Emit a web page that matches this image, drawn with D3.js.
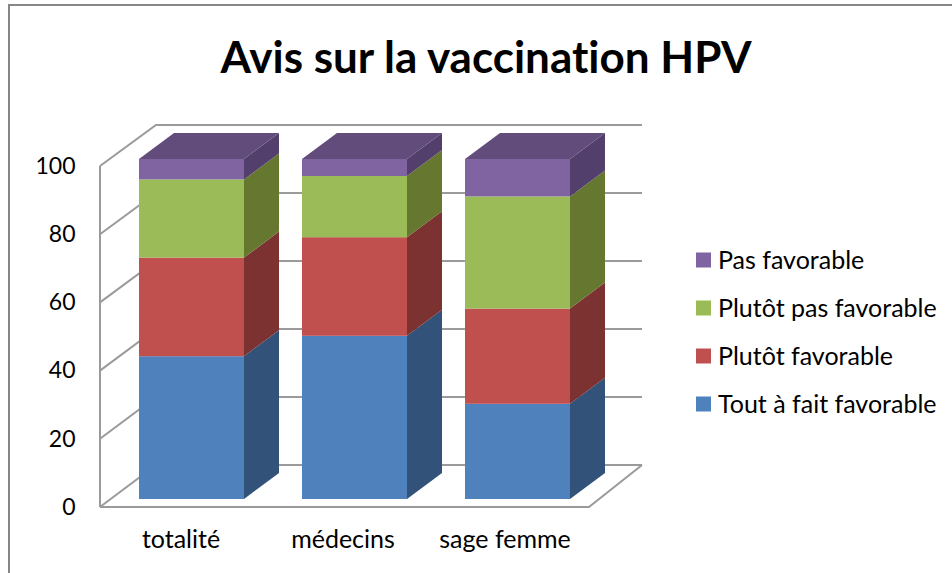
<!DOCTYPE html>
<html>
<head>
<meta charset="utf-8">
<title>Avis sur la vaccination HPV</title>
<script src="https://d3js.org/d3.v7.min.js"></script>
<style>
    html, body { margin: 0; padding: 0; background: #fff; }
    svg { display: block; }
    text { font-family: Lato, "Open Sans", sans-serif; fill: #000; font-variant-ligatures: none; }
</style>
</head>
<body>
<div id="chart"></div>
<script>
    // data
    var categories = ["totalité", "médecins", "sage femme"];
    var seriesNames = ["Tout à fait favorable", "Plutôt favorable", "Plutôt pas favorable", "Pas favorable"];
    var toutAFait = [42, 48, 28];
    var plutotFav = [29, 29, 28];
    var plutotPas = [23, 18, 33];
    var pasFav = [6, 5, 11];
    var yTicks = [0, 20, 40, 60, 80, 100];

    var frontColors = ["#4f81bd", "#c0504d", "#9bbb59", "#8064a2"];
    var sideColors = ["#32527a", "#7c3230", "#66782f", "#533f6b"];
    var topColor = "#624c7c";
    var gridColor = "#9a9a9a";
    var labelSize = 25;

    var svg = d3.select("#chart").append("svg")
        .attr("width", 952)
        .attr("height", 573);

    // scales: one for the front of the box, one for the bars, one for the back wall
    var x = d3.scaleBand().domain(categories).range([100, 589]);
    var xLabels = d3.scaleBand().domain(categories).range([100, 586]);
    var yAxisScale = d3.scaleLinear().domain([0, 100]).range([507, 166]);
    var yBar = d3.scaleLinear().domain([0, 100]).range([499, 159]);
    var yWall = d3.scaleLinear().domain([0, 100]).range([465, 125]);

    var barDepthX = 35, barDepthY = -26; // depth of a bar
    var barWidth = 105, barShift = 10;

    // outer border of the chart area
    svg.append("path")
        .attr("d", "M9,573V5H952")
        .attr("fill", "none")
        .attr("stroke", "#868686")
        .attr("stroke-width", 2);

    svg.append("text")
        .attr("x", 486)
        .attr("y", 73)
        .attr("text-anchor", "middle")
        .attr("font-size", 44)
        .attr("font-weight", "bold")
        .text("Avis sur la vaccination HPV");

    // walls and grid
    var walls = svg.append("g")
        .attr("fill", "none")
        .attr("stroke", gridColor)
        .attr("stroke-width", 2);

    walls.selectAll(".grid")
        .data(yTicks)
        .enter()
        .append("path")
        .attr("class", "grid")
        .attr("d", function (d) {
            return "M100," + yAxisScale(d) + "L156," + yWall(d) + "H642";
        });

    walls.append("path").attr("d", "M100," + yAxisScale(0) + "V" + yAxisScale(100));
    walls.append("path").attr("d", "M100," + yAxisScale(0) + "H589L642," + yWall(0));

    // axis labels
    var yAxis = svg.append("g")
        .attr("transform", "translate(75.5,0)")
        .call(d3.axisLeft(yAxisScale).tickValues(yTicks).tickSize(0).tickPadding(0));
    yAxis.select(".domain").remove();
    yAxis.selectAll("text")
        .attr("font-size", 23)
        .style("font-family", "Lato, 'Open Sans', sans-serif");

    var xAxis = svg.append("g")
        .attr("transform", "translate(0,530)")
        .call(d3.axisBottom(xLabels).tickSize(0).tickPadding(0));
    xAxis.select(".domain").remove();
    xAxis.selectAll("text")
        .attr("font-size", labelSize)
        .style("font-family", "Lato, 'Open Sans', sans-serif");

    // stacked bars
    var stack = d3.stack().keys([0, 1, 2, 3]).value(function (d, key) { return d[key]; });
    var rows = categories.map(function (c, i) {
        return [toutAFait[i], plutotFav[i], plutotPas[i], pasFav[i]];
    });
    var layers = stack(rows);

    function barLeft(i) {
        return x(categories[i]) + x.bandwidth() / 2 + barShift - barWidth / 2;
    }

    layers.forEach(function (layer, s) {
        var g = svg.append("g");

        // side face
        g.selectAll(".side")
            .data(layer)
            .enter()
            .append("path")
            .attr("class", "side")
            .attr("fill", sideColors[s])
            .attr("d", function (d, i) {
                var xr = barLeft(i) + barWidth;
                return "M" + xr + "," + yBar(d[0])
                    + "L" + (xr + barDepthX) + "," + (yBar(d[0]) + barDepthY)
                    + "V" + (yBar(d[1]) + barDepthY)
                    + "L" + xr + "," + yBar(d[1]) + "Z";
            });

        // front face
        g.selectAll(".front")
            .data(layer)
            .enter()
            .append("rect")
            .attr("class", "front")
            .attr("fill", frontColors[s])
            .attr("x", function (d, i) { return barLeft(i); })
            .attr("y", function (d) { return yBar(d[1]); })
            .attr("width", barWidth)
            .attr("height", function (d) { return yBar(d[0]) - yBar(d[1]); });
    });

    // top faces
    svg.selectAll(".top")
        .data(layers[3])
        .enter()
        .append("path")
        .attr("class", "top")
        .attr("fill", topColor)
        .attr("d", function (d, i) {
            var xl = barLeft(i), yt = yBar(d[1]);
            return "M" + xl + "," + yt
                + "L" + (xl + barDepthX) + "," + (yt + barDepthY)
                + "H" + (xl + barDepthX + barWidth)
                + "L" + (xl + barWidth) + "," + yt + "Z";
        });

    // legend, last series on top
    var legendY = d3.scalePoint().domain(seriesNames.slice().reverse()).range([260, 404]);
    var legend = svg.selectAll(".legend")
        .data(seriesNames)
        .enter()
        .append("g")
        .attr("class", "legend")
        .attr("transform", function (d) { return "translate(696," + legendY(d) + ")"; });

    legend.append("rect")
        .attr("y", -7.5)
        .attr("width", 15)
        .attr("height", 15)
        .attr("fill", function (d, i) { return frontColors[i]; });

    legend.append("text")
        .attr("x", 22)
        .attr("dy", "0.35em")
        .attr("font-size", labelSize)
        .text(function (d) { return d; });
</script>
</body>
</html>
